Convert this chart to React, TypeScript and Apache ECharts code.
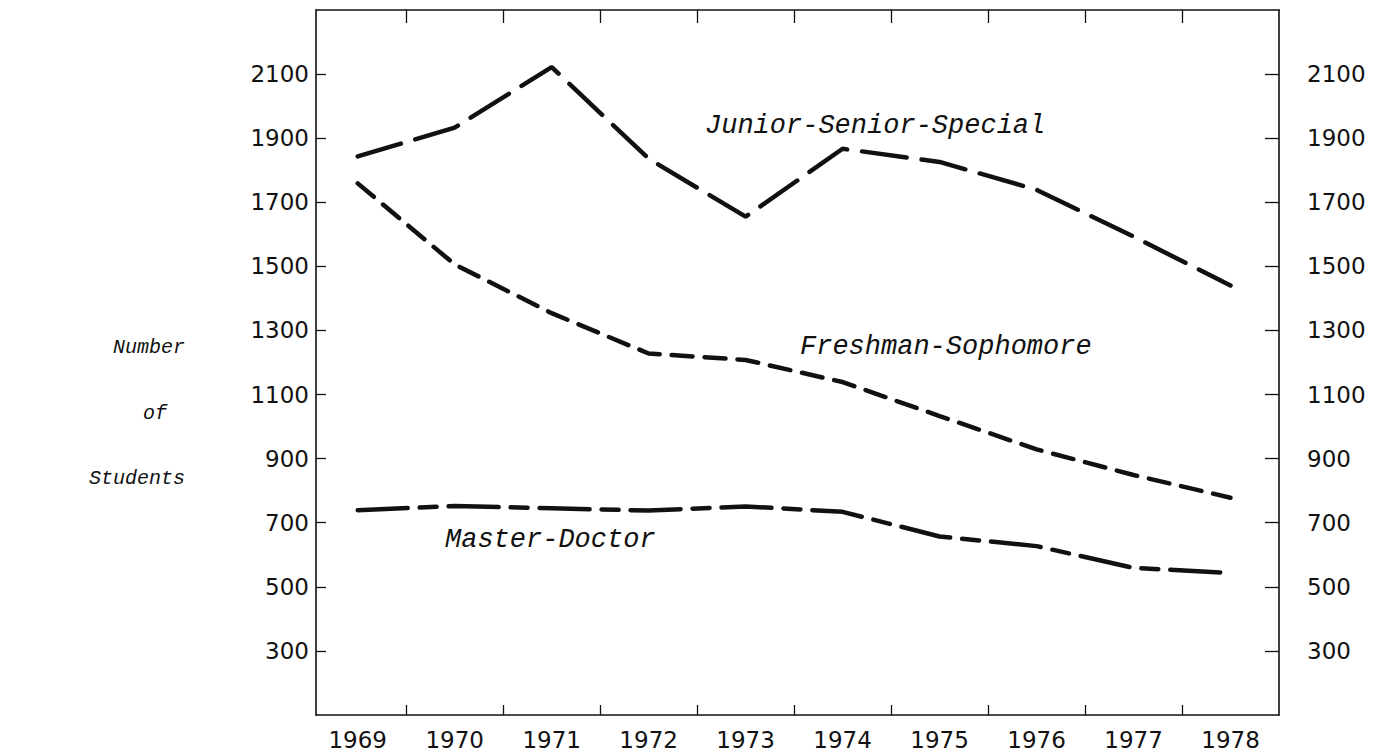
import React, { useEffect, useRef } from "react";
import * as echarts from "echarts";

const years = [1969, 1970, 1971, 1972, 1973, 1974, 1975, 1976, 1977, 1978];
const juniorSeniorSpecial = [1843, 1933, 2122, 1836, 1655, 1867, 1826, 1739, 1593, 1440];
const freshmanSophomore = [1759, 1506, 1354, 1228, 1208, 1139, 1033, 929, 849, 778];
const masterDoctor = [739, 752, 745, 738, 751, 734, 657, 627, 559, 543];
const yTicks = [300, 500, 700, 900, 1100, 1300, 1500, 1700, 1900, 2100];
const xTickMarks = [1969.5, 1970.5, 1971.5, 1972.5, 1973.5, 1974.5, 1975.5, 1976.5, 1977.5];

const INK = "#111";

export default function App() {
  const ref = useRef<HTMLDivElement>(null);
  useEffect(() => {
    const chart = echarts.init(ref.current!, null, { renderer: "svg" });
    const pair = (arr: number[]) => years.map((y, i) => [y, arr[i]]);
    const axisLine = { show: true, lineStyle: { color: INK, width: 1.6 } };
    const labelFont = { fontFamily: "DejaVu Sans", fontSize: 23, color: INK };
    const mono = '"Liberation Mono", "DejaVu Sans Mono", monospace';
    const plain = (v: number) => String(v);
    chart.setOption({
      animation: false,
      backgroundColor: "#fff",
      grid: { left: 316, right: 113, top: 10, bottom: 40, containLabel: false, outerBoundsMode: "none" },
      xAxis: [
        {
          type: "value",
          position: "bottom",
          min: 1968.57,
          max: 1978.5,
          axisLine,
          splitLine: { show: false },
          axisTick: { show: true, inside: true, length: 10, customValues: xTickMarks, lineStyle: { color: INK, width: 1.3 } },
          axisLabel: { ...labelFont, margin: 13, customValues: years, formatter: plain },
        },
        {
          type: "value",
          position: "top",
          min: 1968.57,
          max: 1978.5,
          axisLine,
          splitLine: { show: false },
          axisTick: { show: true, inside: true, length: 13, customValues: xTickMarks, lineStyle: { color: INK, width: 1.3 } },
          axisLabel: { show: false },
        },
      ],
      yAxis: [
        {
          type: "value",
          position: "left",
          min: 100,
          max: 2300,
          axisLine,
          splitLine: { show: false },
          axisTick: { show: true, inside: true, length: 10, customValues: yTicks, lineStyle: { color: INK, width: 1.3 } },
          axisLabel: { ...labelFont, margin: 7, customValues: yTicks, formatter: plain },
        },
        {
          type: "value",
          position: "right",
          min: 100,
          max: 2300,
          axisLine,
          splitLine: { show: false },
          axisTick: { show: true, inside: true, length: 14, customValues: yTicks, lineStyle: { color: INK, width: 1.3 } },
          axisLabel: { ...labelFont, margin: 28, customValues: yTicks, formatter: plain },
        },
      ],
      series: [
        {
          name: "Junior-Senior-Special",
          type: "line",
          data: pair(juniorSeniorSpecial),
          symbol: "none",
          lineStyle: { color: INK, width: 4.5, type: [45, 15], cap: "round" },
        },
        {
          name: "Freshman-Sophomore",
          type: "line",
          data: pair(freshmanSophomore),
          symbol: "none",
          lineStyle: { color: INK, width: 4.5, type: [21, 12], cap: "round" },
        },
        {
          name: "Master-Doctor",
          type: "line",
          data: pair(masterDoctor),
          symbol: "none",
          lineStyle: { color: INK, width: 4.5, type: [50, 12, 17, 12], cap: "round" },
        },
      ],
      graphic: [
        { type: "text", left: 705, top: 112, style: { text: "Junior-Senior-Special", font: `italic 27px ${mono}`, fill: INK } },
        { type: "text", left: 800, top: 333, style: { text: "Freshman-Sophomore", font: `italic 27px ${mono}`, fill: INK } },
        { type: "text", left: 445, top: 526, style: { text: "Master-Doctor", font: `italic 27px ${mono}`, fill: INK } },
        { type: "text", left: 113, top: 337, style: { text: "Number", font: `italic 20px ${mono}`, fill: INK } },
        { type: "text", left: 143, top: 403, style: { text: "of", font: `italic 20px ${mono}`, fill: INK } },
        { type: "text", left: 89, top: 468, style: { text: "Students", font: `italic 20px ${mono}`, fill: INK } },
      ],
    });
    return () => chart.dispose();
  }, []);
  return <div ref={ref} style={{ position: "fixed", left: 0, top: 0, width: 1392, height: 755 }} />;
}
